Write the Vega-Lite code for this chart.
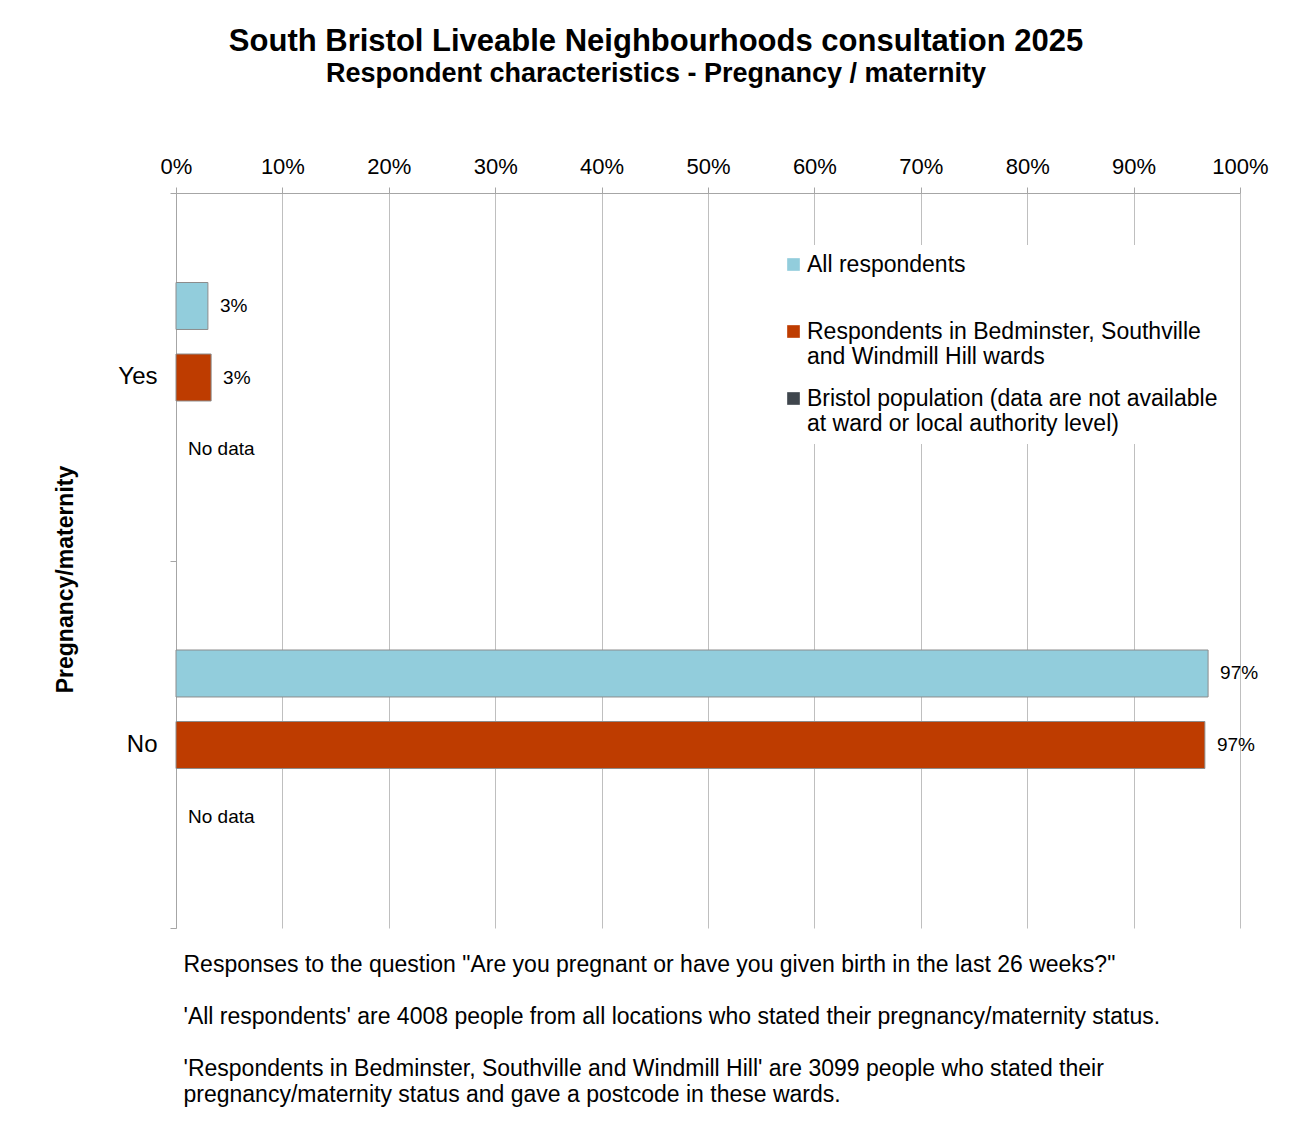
{
  "$schema": "https://vega.github.io/schema/vega-lite/v6.json",
  "width": 1064,
  "height": 735,
  "autosize": {"type": "none"},
  "padding": {"left": 176, "top": 193, "right": 51, "bottom": 194},
  "background": "white",
  "config": {"font": "Liberation Sans", "view": {"stroke": null}},
  "title": {
    "text": "South Bristol Liveable Neighbourhoods consultation 2025",
    "subtitle": "Respondent characteristics - Pregnancy / maternity",
    "fontSize": 31,
    "fontWeight": "bold",
    "subtitleFontSize": 27,
    "subtitleFontWeight": "bold",
    "color": "black",
    "subtitleColor": "black",
    "font": "Liberation Sans",
    "subtitleFont": "Liberation Sans",
    "anchor": "middle",
    "dx": -52,
    "offset": 67,
    "subtitlePadding": 3
  },
  "data": {
    "values": [
      {"category": "Yes", "series": "All respondents", "value": 0.030, "label": "3%"},
      {"category": "Yes", "series": "Respondents in Bedminster, Southville and Windmill Hill wards", "value": 0.033, "label": "3%"},
      {"category": "Yes", "series": "Bristol population (data are not available at ward or local authority level)", "value": null, "label": "No data"},
      {"category": "No", "series": "All respondents", "value": 0.970, "label": "97%"},
      {"category": "No", "series": "Respondents in Bedminster, Southville and Windmill Hill wards", "value": 0.967, "label": "97%"},
      {"category": "No", "series": "Bristol population (data are not available at ward or local authority level)", "value": null, "label": "No data"}
    ]
  },
  "encoding": {
    "y": {
      "field": "category",
      "type": "nominal",
      "sort": ["Yes", "No"],
      "scale": {"paddingInner": 0, "paddingOuter": 0},
      "axis": {
        "orient": "left",
        "title": "Pregnancy/maternity",
        "titleFontSize": 23,
        "titleFontWeight": "bold",
        "titleColor": "black",
        "titlePadding": 40,
        "titleY": 386,
        "labelFontSize": 24,
        "labelColor": "black",
        "labelPadding": 13,
        "tickSize": 6,
        "tickBand": "extent",
        "tickColor": "#a6a6a6",
        "domainColor": "#a6a6a6",
        "grid": false
      }
    },
    "yOffset": {
      "field": "series",
      "type": "nominal",
      "sort": [
        "All respondents",
        "Respondents in Bedminster, Southville and Windmill Hill wards",
        "Bristol population (data are not available at ward or local authority level)"
      ],
      "scale": {"paddingInner": 0.343, "paddingOuter": 1, "range": [18, 351]}
    }
  },
  "layer": [
    {
      "transform": [{"filter": "datum.value != null"}],
      "mark": {"type": "bar", "stroke": "#8c8c8c", "strokeWidth": 1},
      "encoding": {
        "x": {
          "field": "value",
          "type": "quantitative",
          "scale": {"domain": [0, 1], "nice": false},
          "axis": {
            "orient": "top",
            "title": null,
            "values": [0, 0.1, 0.2, 0.3, 0.4, 0.5, 0.6, 0.7, 0.8, 0.9, 1],
            "format": ".0%",
            "labelFontSize": 22,
            "labelColor": "black",
            "labelPadding": 9,
            "labelFlush": false,
            "tickSize": 6,
            "tickColor": "#a6a6a6",
            "domainColor": "#a6a6a6",
            "grid": true,
            "gridColor": "#bfbfbf"
          }
        },
        "color": {
          "field": "series",
          "type": "nominal",
          "scale": {
            "domain": [
              "All respondents",
              "Respondents in Bedminster, Southville and Windmill Hill wards",
              "Bristol population (data are not available at ward or local authority level)"
            ],
            "range": ["#92cddc", "#be3c00", "#3f464d"]
          },
          "legend": {
            "orient": "none",
            "legendX": 598,
            "legendY": 52,
            "title": null,
            "fillColor": "white",
            "padding": 8,
            "symbolType": "square",
            "symbolSize": 160,
            "symbolStrokeWidth": 0,
            "labelFontSize": 23,
            "labelColor": "black",
            "labelLimit": 600,
            "labelOffset": 2,
            "rowPadding": 18,
            "labelExpr": "datum.value == 'All respondents' ? ['All respondents', ' '] : datum.value == 'Respondents in Bedminster, Southville and Windmill Hill wards' ? ['Respondents in Bedminster, Southville', 'and Windmill Hill wards'] : ['Bristol population (data are not available', 'at ward or local authority level)']"
          }
        }
      }
    },
    {
      "transform": [{"filter": "datum.value != null"}],
      "mark": {"type": "text", "align": "left", "baseline": "middle", "dx": 12, "fontSize": 19, "color": "black"},
      "encoding": {
        "x": {"field": "value", "type": "quantitative", "axis": null},
        "text": {"field": "label"}
      }
    },
    {
      "transform": [{"filter": "datum.value == null"}],
      "mark": {"type": "text", "align": "left", "baseline": "middle", "dx": 12, "fontSize": 19, "color": "black"},
      "encoding": {
        "x": {
          "datum": 0,
          "type": "quantitative",
          "axis": {
            "orient": "bottom",
            "labels": false,
            "ticks": false,
            "domain": false,
            "grid": false,
            "title": [
              "Responses to the question \"Are you pregnant or have you given birth in the last 26 weeks?\"",
              "\u200b",
              "'All respondents' are 4008 people from all locations who stated their pregnancy/maternity status.",
              "\u200c",
              "'Respondents in Bedminster, Southville and Windmill Hill' are 3099 people who stated their",
              "pregnancy/maternity status and gave a postcode in these wards."
            ],
            "titleFontSize": 23,
            "titleFontWeight": "normal",
            "titleColor": "black",
            "titleAnchor": "start",
            "titleAlign": "left",
            "titleBaseline": "top",
            "titleX": 7,
            "titleY": 25,
            "titleLineHeight": 26
          }
        },
        "text": {"field": "label"}
      }
    }
  ],
  "resolve": {"axis": {"x": "independent"}}
}
